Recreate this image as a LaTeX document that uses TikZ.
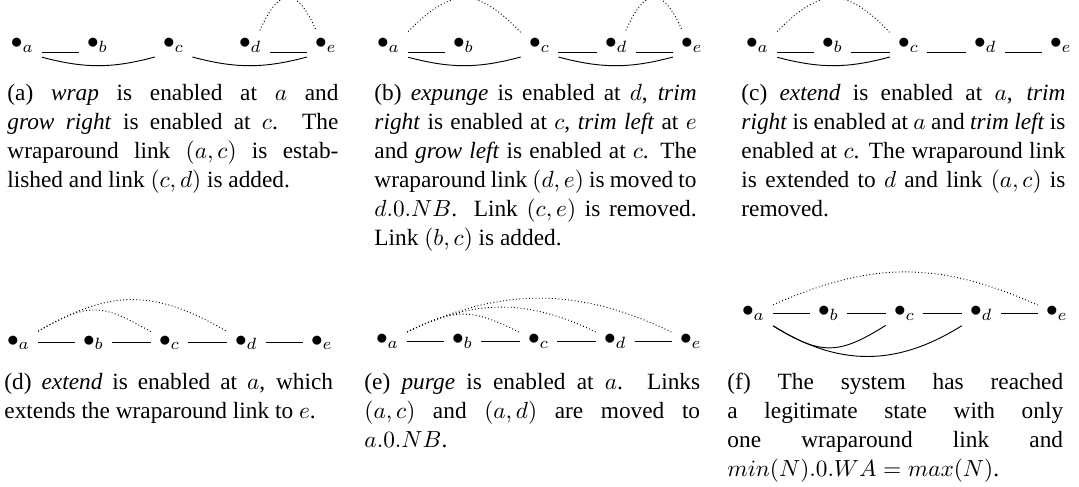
\documentclass[tikz,border=0pt]{standalone}
\usepackage[no-math]{fontspec}
\setmainfont{Liberation Serif}
\tikzset{
	vert/.style={inner sep=.3333em},
	vertlow/.style={vert, text depth=7pt},
	link/.style={line width=0.4pt},
	wrap/.style={line width=0.4pt, densely dotted},
	capt/.style={anchor=base west, inner sep=0pt, align=justify, font=\fontsize{10pt}{12.4pt}\selectfont}
}
\begin{document}
\begin{tikzpicture}[x=0.429pt,y=-0.429pt]
	\useasboundingbox (0,0) rectangle (1079,487);
	
	% (a)
	\foreach \n [count=\i from 0] in {a,b,c,d,e}
		\node[vertlow, anchor=text] (A\n) at (11+76*\i,49) {$\bullet_\n$};
	\draw[link] (Aa) -- (Ab);
	\draw[link] (Ad) -- (Ae);
	\draw[link] (Aa) to[bend right=15] (Ac);
	\draw[link] (Ac) to[bend right=15] (Ae);
	\draw[wrap] (Ad) to[bend left=66, looseness=2.2] (Ae);
	\node[capt, text width=142pt] (capA) at (7,101) {(a) \textit{wrap} is enabled at $a$ and\linebreak
		\textit{grow right} is enabled at $c$. The\linebreak
		wraparound link $(a,c)$ is estab-\linebreak
		lished and link $(c,d)$ is added.};
	
	% (b)
	\foreach \n [count=\i from 0] in {a,b,c,d,e}
		\node[vertlow, anchor=text] (B\n) at (377+76*\i,49) {$\bullet_\n$};
	\draw[link] (Ba) -- (Bb);
	\draw[link] (Bc) -- (Bd);
	\draw[link] (Bd) -- (Be);
	\draw[link] (Ba) to[bend right=15] (Bc);
	\draw[link] (Bc) to[bend right=15] (Be);
	\draw[wrap] (Ba) to[bend left=46, looseness=1.43] (Bc);
	\draw[wrap] (Bd) to[bend left=66, looseness=2.2] (Be);
	\node[capt, text width=138.2pt] (capB) at (374,101) {(b) \textit{expunge} is enabled at $d$, \textit{trim}\linebreak
		\textit{right} is enabled at $c$, \textit{trim left} at $e$\linebreak
		and \textit{grow left} is enabled at $c$. The\linebreak
		wraparound link $(d,e)$ is moved to\linebreak
		$d.0.NB$. Link $(c,e)$ is removed.\linebreak
		Link $(b,c)$ is added.};
	
	% (c)
	\foreach \n [count=\i from 0] in {a,b,c,d,e}
		\node[vertlow, anchor=text] (C\n) at (746+76*\i,49) {$\bullet_\n$};
	\draw[link] (Ca) -- (Cb);
	\draw[link] (Cb) -- (Cc);
	\draw[link] (Cc) -- (Cd);
	\draw[link] (Cd) -- (Ce);
	\draw[link] (Ca) to[bend right=15] (Cc);
	\draw[wrap] (Ca) to[bend left=46, looseness=1.43] (Cc);
	\node[capt, text width=139pt] (capC) at (741,101) {(c) \textit{extend} is enabled at $a$, \textit{trim}\linebreak
		\textit{right} is enabled at $a$ and \textit{trim left} is\linebreak
		enabled at $c$. The wraparound link\linebreak
		is extended to $d$ and link $(a,c)$ is\linebreak
		removed.};
	
	% (d)
	\foreach \n [count=\i from 0] in {a,b,c,d,e}
		\node[vert, anchor=text] (D\n) at (7+76*\i,346) {$\bullet_\n$};
	\draw[link] (Da) -- (Db);
	\draw[link] (Db) -- (Dc);
	\draw[link] (Dc) -- (Dd);
	\draw[link] (Dd) -- (De);
	\draw[wrap] (Da) to[bend left=30, looseness=1.3] (Dc);
	\draw[wrap] (Da) to[bend left=30, looseness=1.15] (Dd);
	\node[capt, text width=141pt] (capD) at (4,390) {(d) \textit{extend} is enabled at $a$, which\linebreak
		extends the wraparound link to $e$.};
	
	% (e)
	\foreach \n [count=\i from 0] in {a,b,c,d,e}
		\node[vert, anchor=text] (E\n) at (376+76*\i,345) {$\bullet_\n$};
	\draw[link] (Ea) -- (Eb);
	\draw[link] (Eb) -- (Ec);
	\draw[link] (Ec) -- (Ed);
	\draw[link] (Ed) -- (Ee);
	\draw[wrap] (Ea) to[bend left=26, looseness=1.25] (Ec);
	\draw[wrap] (Ea) to[bend left=26, looseness=1.03] (Ed);
	\draw[wrap] (Ea) to[bend left=26, looseness=1.0] (Ee);
	\node[capt, text width=144pt] (capE) at (364,390) {(e) \textit{purge} is enabled at $a$. Links\linebreak
		$(a,c)$ and $(a,d)$ are moved to\linebreak
		$a.0.NB$.};
	
	% (f)
	\foreach \n [count=\i from 0] in {a,b,c,d,e}
		\node[vert, anchor=text] (F\n) at (742+76*\i,317) {$\bullet_\n$};
	\draw[link] (Fa) -- (Fb);
	\draw[link] (Fb) -- (Fc);
	\draw[link] (Fc) -- (Fd);
	\draw[link] (Fd) -- (Fe);
	\draw[link] (Fa) to[bend right=32, looseness=1.27] (Fc);
	\draw[link] (Fa) to[bend right=32, looseness=1.05] (Fd);
	\draw[wrap] (Fa) to[bend left=24, looseness=1.05] (Fe);
	\node[capt, text width=144pt] (capF) at (727,390) {(f) The system has reached\linebreak
		a legitimate state with only\linebreak
		one wraparound link and\linebreak
		$min(N).0.WA = max(N)$.};
	
\end{tikzpicture}
\end{document}
